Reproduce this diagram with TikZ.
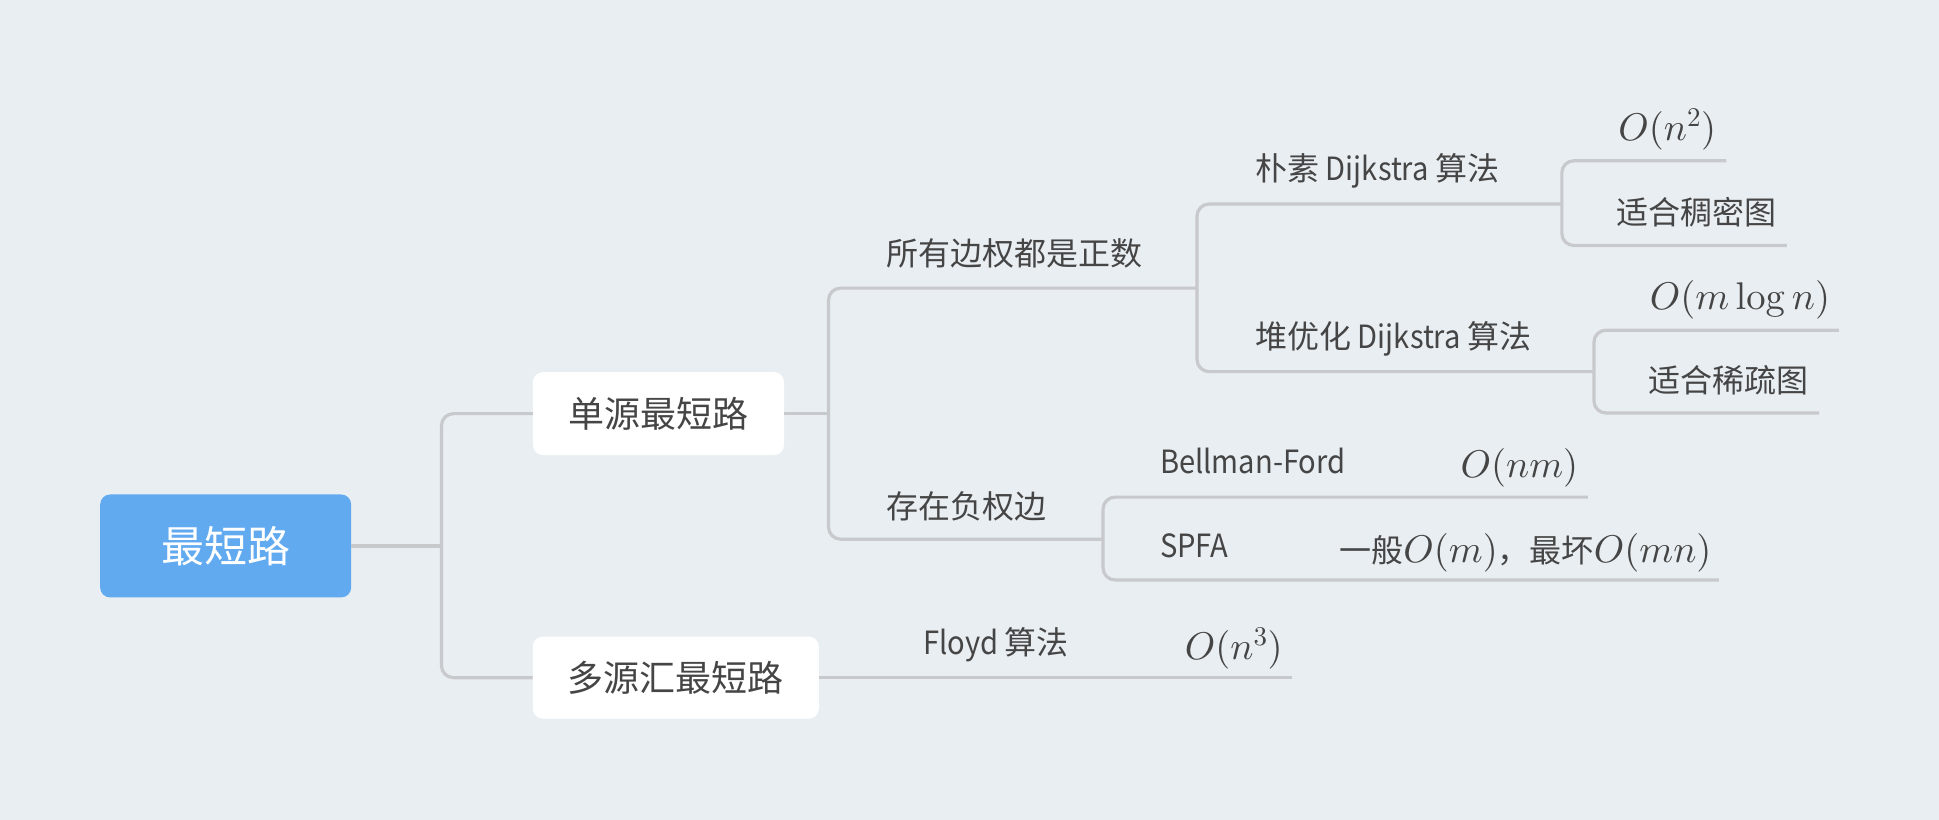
\documentclass[tikz,border=0pt]{standalone}
\usepackage[no-math]{fontspec}
\DeclareFontShape{OT1}{cmr}{m}{n}{<->cmr10}{}
\DeclareFontShape{OML}{cmm}{m}{it}{<->cmmi10}{}
\DeclareFontShape{OMS}{cmsy}{m}{n}{<->cmsy10}{}
\DeclareFontShape{OMX}{cmex}{m}{n}{<->cmex10}{}
\newfontfamily\cjk{Noto Sans CJK SC}
\newfontfamily\latn[FakeStretch=0.91]{Noto Sans CJK SC}
\definecolor{bgc}{HTML}{E9EEF2}
\definecolor{linec}{HTML}{C8C9CD}
\definecolor{rootc}{HTML}{61AAF0}
\definecolor{txtc}{HTML}{454545}
\tikzset{
  conn/.style={draw=linec, line width=3.2pt, rounded corners=12pt},
  boxnode/.style={fill=white, rounded corners=10pt, text=txtc, inner sep=0pt, font=\cjk\fontsize{36}{40}\selectfont},
  lbl/.style={text=txtc, inner sep=0pt, anchor=base west, font=\cjk\fontsize{32}{36}\selectfont},
  mth/.style={text=txtc, inner sep=0pt, anchor=base west, font=\fontsize{38.6}{44}\selectfont},
}
\newcommand{\mfs}[1]{{\fontsize{38.6}{44}\selectfont$#1$}}
\newcommand{\lw}[1]{{\latn #1}}
\begin{document}
\begin{tikzpicture}[x=1.2366pt,y=-1.2366pt]
\fill[bgc] (0,0) rectangle (1568,663);
% boxes
\node[boxnode, fill=rootc, text=white, font=\cjk\fontsize{43}{48}\selectfont, minimum width=251pt, minimum height=103pt] (root) at (182.5,441.5) {最短路};
\node[boxnode, minimum width=251pt, minimum height=83pt] (single) at (532.5,334.5) {单源最短路};
\node[boxnode, minimum width=286pt, minimum height=82pt] (multi) at (546.5,548) {多源汇最短路};
% labels
\node[lbl] (pos) at (716.5,215) {所有边权都是正数};
\node[lbl] (neg) at (716.5,419) {存在负权边};
\node[lbl] (naive) at (1015,146) {朴素\lw{ Dijkstra }算法};
\node[lbl] (heap) at (1015,282) {堆优化\lw{ Dijkstra }算法};
\node[mth] (n2) at (1308.5,114) {$O(n^2)$};
\node[lbl] (dense) at (1307,181.5) {适合稠密图};
\node[mth] (mlogn) at (1334,250) {$O(m\log n)$};
\node[lbl] (sparse) at (1333,317) {适合稀疏图};
\node[lbl] (bf) at (938,383) {\lw{Bellman-Ford}};
\node[mth] (bfc) at (1181,386) {$O(nm)$};
\node[lbl] (spfa) at (938,451) {\lw{SPFA}};
\node[lbl] (spfac) at (1083,455) {一般\mfs{O(m)}，最坏\mfs{O(mn)}};
\node[lbl] (floyd) at (746.5,529) {\lw{Floyd }算法};
\node[mth] (floydc) at (958,533) {$O(n^3)$};
% joints and line ends
\coordinate (j0) at (357,441.5);
\coordinate (k1) at (670,334.5);
\coordinate (posE) at (968,233);
\coordinate (negE) at (892,436);
\coordinate (naiveE) at (1263,165);
\coordinate (heapE) at (1289,300.5);
\coordinate (n2E) at (1396,130);
\coordinate (denseE) at (1445,198.5);
\coordinate (mlognE) at (1487,267);
\coordinate (sparseE) at (1471,334);
\coordinate (bfE) at (1284,402);
\coordinate (spfaE) at (1390,469);
\coordinate (floydE) at (1045,548);
% connectors
\draw[conn] (root.east) -- (j0);
\draw[conn] (single.west) -- (single.west -| j0) -- (multi.west -| j0) -- (multi.west);
\draw[conn] (single.east) -- (k1);
\draw[conn] (posE) -- (posE -| k1) -- (negE -| k1) -- (negE);
\draw[conn] (naiveE) -- (naiveE -| posE) -- (heapE -| posE) -- (heapE);
\draw[conn] (n2E) -- (n2E -| naiveE) -- (denseE -| naiveE) -- (denseE);
\draw[conn] (mlognE) -- (mlognE -| heapE) -- (sparseE -| heapE) -- (sparseE);
\draw[conn] (bfE) -- (bfE -| negE) -- (spfaE -| negE) -- (spfaE);
\draw[conn] (multi.east) -- (floydE);
\end{tikzpicture}
\end{document}
